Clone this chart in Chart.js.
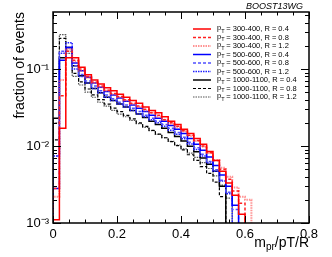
<!DOCTYPE html>
<html>
<head>
<meta charset="utf-8">
<script src="https://cdn.jsdelivr.net/npm/chart.js@4.4.0/dist/chart.umd.min.js"></script>
<style>
  html, body { margin: 0; padding: 0; background: #fff; }
</style>
</head>
<body>
<canvas id="chart" width="332" height="257"></canvas>
<script>
// histogram bins start at 0 and are 0.02 wide
const binWidth = 0.02;
const yMin = 0.001;
const yMax = 0.55;

const legendLabels = [
    ["300-400", "0.4"], ["300-400", "0.8"], ["300-400", "1.2"],
    ["500-600", "0.4"], ["500-600", "0.8"], ["500-600", "1.2"],
    ["1000-1100", "0.4"], ["1000-1100", "0.8"], ["1000-1100", "1.2"]
];

const pt300R04 = [0.0011, 0.017, 0.14, 0.14, 0.105, 0.084, 0.072, 0.064, 0.057, 0.052,
    0.047, 0.043, 0.039, 0.036, 0.032, 0.029, 0.027, 0.024, 0.021, 0.019,
    0.0165, 0.0145, 0.0125, 0.0105, 0.0085, 0.0065, 0.0047, 0.0033, 0.0023, 0.0013];
const pt300R08 = [0.0028, 0.045, 0.17, 0.13, 0.1, 0.08, 0.068, 0.06, 0.053, 0.048,
    0.044, 0.04, 0.036, 0.033, 0.03, 0.027, 0.025, 0.022, 0.02, 0.018,
    0.0158, 0.0138, 0.0118, 0.01, 0.0082, 0.0065, 0.005, 0.0037, 0.0026, 0.0018];
const pt300R12 = [0.0022, 0.072, 0.18, 0.125, 0.095, 0.077, 0.066, 0.058, 0.052, 0.047,
    0.043, 0.039, 0.035, 0.032, 0.029, 0.027, 0.024, 0.022, 0.0195, 0.0175,
    0.0155, 0.0135, 0.0116, 0.0098, 0.0081, 0.0066, 0.0052, 0.004, 0.0029, 0.0022, 0.002];
const pt500R04 = [0.0028, 0.13, 0.19, 0.12, 0.095, 0.078, 0.066, 0.058, 0.051, 0.046,
    0.042, 0.038, 0.034, 0.031, 0.028, 0.025, 0.023, 0.021, 0.0185, 0.0165,
    0.0145, 0.0125, 0.0105, 0.0088, 0.0072, 0.0056, 0.0042, 0.003, 0.0017];
const pt500R08 = [0.0074, 0.17, 0.19, 0.11, 0.085, 0.07, 0.06, 0.052, 0.046, 0.041,
    0.037, 0.034, 0.031, 0.028, 0.025, 0.023, 0.021, 0.019, 0.017, 0.015,
    0.013, 0.0112, 0.0095, 0.0078, 0.0063, 0.0049, 0.0036, 0.0025, 0.0015];
const pt500R12 = [0.0074, 0.16, 0.22, 0.1, 0.08, 0.066, 0.056, 0.049, 0.043, 0.039,
    0.035, 0.032, 0.029, 0.026, 0.024, 0.022, 0.02, 0.018, 0.016, 0.0142,
    0.0124, 0.0106, 0.009, 0.0074, 0.006, 0.0047, 0.0035, 0.0024];
const pt1000R04 = [0.023, 0.14, 0.19, 0.11, 0.082, 0.066, 0.056, 0.049, 0.043, 0.039,
    0.035, 0.032, 0.029, 0.026, 0.0235, 0.021, 0.019, 0.017, 0.015, 0.0133,
    0.0116, 0.0099, 0.0084, 0.007, 0.0058, 0.0047, 0.003];
const pt1000R08 = [0.012, 0.25, 0.17, 0.088, 0.068, 0.055, 0.046, 0.04, 0.035, 0.031,
    0.028, 0.025, 0.0225, 0.02, 0.018, 0.016, 0.0143, 0.0128, 0.0114, 0.0101,
    0.0089, 0.0077, 0.0065, 0.0054, 0.0044, 0.0034, 0.0022];
const pt1000R12 = [0.02, 0.28, 0.16, 0.08, 0.062, 0.05, 0.043, 0.037, 0.033, 0.029,
    0.026, 0.024, 0.0215, 0.0195, 0.0175, 0.0158, 0.0142, 0.0128, 0.0115, 0.0103,
    0.0092, 0.0081, 0.0071, 0.0061, 0.0051, 0.0041, 0.0031, 0.0021];

const xTickLabels = ["0", "0.2", "0.4", "0.6", "0.8"];
const yTickLabels = ["10\u207B\u00B3", "10\u207B\u00B2", "10\u207B\u00B9"];

const styles = [
    { color: "#ff0000", dash: [], width: 1.5 },
    { color: "#ff2020", dash: [3, 2], width: 1.5 },
    { color: "rgba(255,90,90,0.65)", dash: [1.5, 1], width: 2 },
    { color: "#0000ff", dash: [], width: 1.5 },
    { color: "#5050ff", dash: [3, 2], width: 1.5 },
    { color: "#2020ff", dash: [1.5, 1], width: 1.5 },
    { color: "#000000", dash: [], width: 1.5 },
    { color: "#000000", dash: [3, 2], width: 1.2 },
    { color: "#555555", dash: [1.5, 1], width: 1.2 }
];
const allSeries = [pt300R04, pt300R08, pt300R12, pt500R04, pt500R08, pt500R12, pt1000R04, pt1000R08, pt1000R12];

function toSteps(values) {
    let pts = [{ x: 0, y: yMin }];
    values.forEach((v, i) => pts.push({ x: i * binWidth, y: v }));
    let end = values.length * binWidth;
    pts.push({ x: end, y: values[values.length - 1] });
    pts.push({ x: end, y: yMin });
    return pts;
}

const font = "'Liberation Sans', Arial, sans-serif";

const decorations = {
    id: "decorations",
    afterDraw(chart) {
        const ctx = chart.ctx;
        const area = chart.chartArea;
        const xs = chart.scales.x;
        const ys = chart.scales.y;
        ctx.save();
        ctx.strokeStyle = "#000";
        ctx.fillStyle = "#000";
        ctx.setLineDash([]);

        // frame
        ctx.lineWidth = 1.5;
        ctx.strokeRect(area.left, area.top, area.right - area.left, area.bottom - area.top);

        // x ticks, inside, bottom and top
        ctx.lineWidth = 1;
        for (let k = 0; k <= 16; k++) {
            let v = k * 0.05;
            let px = Math.round(xs.getPixelForValue(v)) + 0.5;
            let len = k % 4 === 0 ? 7 : 3.5;
            ctx.beginPath();
            ctx.moveTo(px, area.bottom); ctx.lineTo(px, area.bottom - len);
            ctx.moveTo(px, area.top); ctx.lineTo(px, area.top + len);
            ctx.stroke();
        }
        // y ticks, log
        for (let e = -3; e <= -1; e++) {
            for (let m = 1; m <= 9; m++) {
                let v = m * Math.pow(10, e);
                if (v < yMin || v > yMax) continue;
                let py = Math.round(ys.getPixelForValue(v)) + 0.5;
                let len = m === 1 ? 8 : 4;
                ctx.beginPath();
                ctx.moveTo(area.left, py); ctx.lineTo(area.left + len, py);
                ctx.moveTo(area.right, py); ctx.lineTo(area.right - len, py);
                ctx.stroke();
            }
        }

        // x tick labels
        ctx.font = "13px " + font;
        ctx.textAlign = "center";
        ctx.textBaseline = "middle";
        xTickLabels.forEach((lab, i) => {
            ctx.fillText(lab, xs.getPixelForValue(i * 0.2), area.bottom + 11);
        });
        // y tick labels
        ctx.textAlign = "right";
        yTickLabels.forEach((lab, i) => {
            ctx.fillText(lab, area.left - 4, ys.getPixelForValue(Math.pow(10, i - 3)));
        });

        // y title
        ctx.save();
        ctx.translate(24, area.top);
        ctx.rotate(-Math.PI / 2);
        ctx.textAlign = "right";
        ctx.textBaseline = "alphabetic";
        ctx.font = "14px " + font;
        ctx.fillText("fraction of events", 0, 0);
        ctx.restore();

        // x title m_pr/pT/R
        ctx.textBaseline = "alphabetic";
        ctx.textAlign = "left";
        ctx.font = "14px " + font;
        let tail = "/pT/R";
        let wTail = ctx.measureText(tail).width;
        ctx.font = "10px " + font;
        let wSub = ctx.measureText("pr").width;
        ctx.font = "14px " + font;
        let wM = ctx.measureText("m").width;
        let xr = area.right;
        let x0 = xr - wTail - wSub - wM;
        ctx.fillText("m", x0, 247);
        ctx.font = "10px " + font;
        ctx.fillText("pr", x0 + wM, 250);
        ctx.font = "14px " + font;
        ctx.fillText(tail, x0 + wM + wSub, 247);

        // label top right
        ctx.font = "italic 9px " + font;
        ctx.textAlign = "right";
        ctx.fillText("BOOST13WG", 303, 9);

        // legend
        legendLabels.forEach((lab, i) => {
            let y = 29 + i * 8.5;
            let st = styles[i];
            ctx.strokeStyle = st.color;
            ctx.lineWidth = st.width;
            ctx.setLineDash(st.dash);
            ctx.beginPath();
            ctx.moveTo(193, y); ctx.lineTo(211, y);
            ctx.stroke();
            ctx.setLineDash([]);
            ctx.fillStyle = "#000";
            ctx.textAlign = "left";
            ctx.textBaseline = "middle";
            ctx.font = "7.5px " + font;
            ctx.fillText("p", 217, y - 1);
            let wp = ctx.measureText("p").width;
            ctx.font = "5.5px " + font;
            ctx.fillText("T", 217 + wp, y + 2);
            ctx.font = "7.5px " + font;
            ctx.fillText(" = " + lab[0] + ", R = " + lab[1], 217 + wp + 3, y);
        });
        ctx.restore();
    }
};

const ctx = document.getElementById("chart").getContext("2d");
new Chart(ctx, {
    type: "line",
    data: {
        datasets: allSeries.map((vals, i) => ({
            data: toSteps(vals),
            borderColor: styles[i].color,
            borderDash: styles[i].dash,
            borderWidth: styles[i].width,
            stepped: "before",
            fill: false,
            pointRadius: 0,
            tension: 0
        }))
    },
    options: {
        responsive: false,
        animation: false,
        devicePixelRatio: 1,
        layout: { padding: { left: 53, right: 23, top: 12, bottom: 34 } },
        plugins: { legend: { display: false }, tooltip: { enabled: false } },
        scales: {
            x: { type: "linear", min: 0, max: 0.8, display: false },
            y: { type: "logarithmic", min: yMin, max: yMax, display: false }
        }
    },
    plugins: [decorations]
});
</script>
</body>
</html>
